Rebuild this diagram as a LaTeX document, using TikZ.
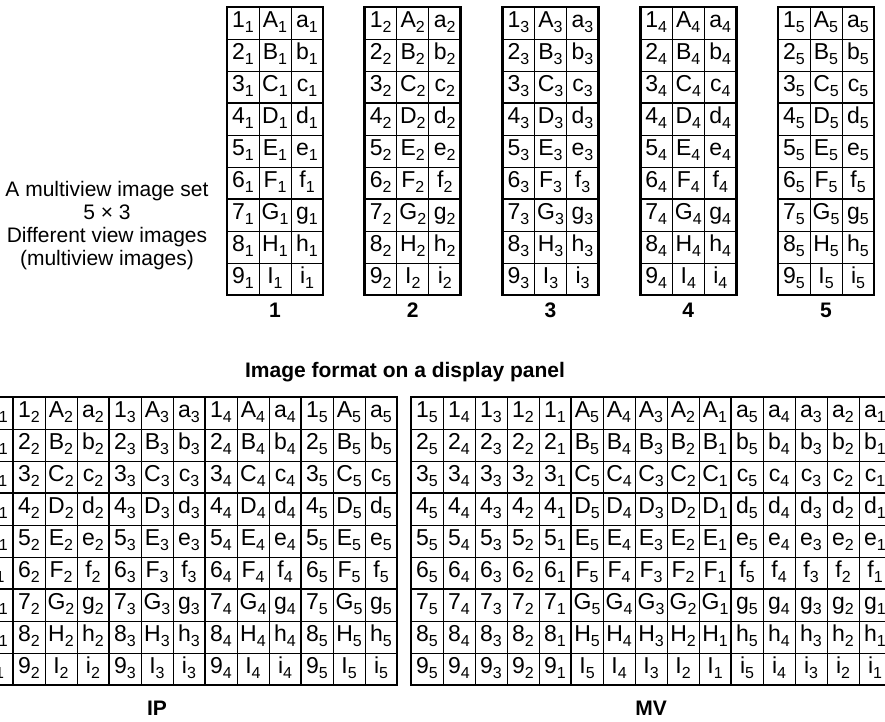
\documentclass[tikz,border=0pt]{standalone}
\usepackage{fontspec}
\setmainfont{Liberation Sans}
\newcommand\csub[2]{#1\raisebox{-5pt}{\fontsize{16}{16}\selectfont #2}}
\begin{document}
\begin{tikzpicture}[x=1pt,y=-1pt,
  thingrid/.style={line width=1pt},
  midgrid/.style={line width=2pt},
  outerbox/.style={line width=2.6pt},
  celltxt/.style={anchor=base,inner sep=0pt,font=\fontsize{23}{23}\selectfont},
  lab/.style={inner sep=0pt,font=\fontsize{21}{23}\selectfont\bfseries},
  desc/.style={align=center,inner sep=0pt,font=\fontsize{21}{23}\selectfont}]
\useasboundingbox (0,0) rectangle (885,721);
\fill[white] (0,0) rectangle (885,721);
\clip (0,0) rectangle (885,721);

% ---------- left description ----------
\node[desc] (desc) at (107,226) {A multiview image set\\5 × 3\\Different view images\\(multiview images)};

% ---------- top five view images ----------
\foreach \k in {1,...,5}{
  \pgfmathsetmacro\gx{227+137.75*(\k-1)}
  \foreach \c in {1,2}
    \draw[thingrid] ({\gx+32*\c},7) -- ({\gx+32*\c},295);
  \foreach \r in {1,2,4,5,7,8}
    \draw[thingrid] (\gx,{7+32*\r}) -- ({\gx+96},{7+32*\r});
  \foreach \r in {3,6}
    \draw[midgrid] (\gx,{7+32*\r}) -- ({\gx+96},{7+32*\r});
  \draw[outerbox] (\gx,7) rectangle ({\gx+96},295);
  \foreach \r/\U/\l in {1/A/a,2/B/b,3/C/c,4/D/d,5/E/e,6/F/f,7/G/g,8/H/h,9/I/i}{
    \node[celltxt] (v\k n\r) at ({\gx+16},{7+32*(\r-1)+20}) {\csub{\r}{\k}};
    \node[celltxt] (v\k U\r) at ({\gx+48},{7+32*(\r-1)+20}) {\csub{\U}{\k}};
    \node[celltxt] (v\k l\r) at ({\gx+80},{7+32*(\r-1)+20}) {\csub{\l}{\k}};
  }
  \node[lab] (lab\k) at ({\gx+48},310.5) {\k};
}

% ---------- heading ----------
\node[lab] (head) at (405,372) {Image format on a display panel};

% ---------- IP format ----------
\def\ipx{-83}
\def\gy{397}
\foreach \c in {1,...,14}{
  \pgfmathtruncatemacro\m{mod(\c,3)}
  \ifnum\m=0
    \draw[midgrid] ({\ipx+32*\c},\gy) -- ({\ipx+32*\c},{\gy+288});
  \else
    \draw[thingrid] ({\ipx+32*\c},\gy) -- ({\ipx+32*\c},{\gy+288});
  \fi
}
\foreach \r in {1,2,4,5,7,8}
  \draw[thingrid] (\ipx,{\gy+32*\r}) -- ({\ipx+480},{\gy+32*\r});
\foreach \r in {3,6}
  \draw[midgrid] (\ipx,{\gy+32*\r}) -- ({\ipx+480},{\gy+32*\r});
\draw[outerbox] (\ipx,\gy) rectangle ({\ipx+480},{\gy+288});
\foreach \k in {1,...,5}{
  \pgfmathsetmacro\bx{\ipx+96*(\k-1)}
  \foreach \r/\U/\l in {1/A/a,2/B/b,3/C/c,4/D/d,5/E/e,6/F/f,7/G/g,8/H/h,9/I/i}{
    \node[celltxt] (ip\k n\r) at ({\bx+16},{\gy+32*(\r-1)+20}) {\csub{\r}{\k}};
    \node[celltxt] (ip\k U\r) at ({\bx+48},{\gy+32*(\r-1)+20}) {\csub{\U}{\k}};
    \node[celltxt] (ip\k l\r) at ({\bx+80},{\gy+32*(\r-1)+20}) {\csub{\l}{\k}};
  }
}
\node[lab] (iplab) at (157,708) {IP};

% ---------- MV format ----------
\def\mvx{411}
\foreach \c in {1,...,14}{
  \pgfmathtruncatemacro\m{mod(\c,5)}
  \ifnum\m=0
    \draw[midgrid] ({\mvx+32*\c},\gy) -- ({\mvx+32*\c},{\gy+288});
  \else
    \draw[thingrid] ({\mvx+32*\c},\gy) -- ({\mvx+32*\c},{\gy+288});
  \fi
}
\foreach \r in {1,2,4,5,7,8}
  \draw[thingrid] (\mvx,{\gy+32*\r}) -- ({\mvx+480},{\gy+32*\r});
\foreach \r in {3,6}
  \draw[midgrid] (\mvx,{\gy+32*\r}) -- ({\mvx+480},{\gy+32*\r});
\draw[outerbox] (\mvx,\gy) rectangle ({\mvx+480},{\gy+288});
\foreach \j in {0,...,4}{
  \pgfmathtruncatemacro\k{5-\j}
  \foreach \r/\U/\l in {1/A/a,2/B/b,3/C/c,4/D/d,5/E/e,6/F/f,7/G/g,8/H/h,9/I/i}{
    \node[celltxt] (mv\k n\r) at ({\mvx+32*\j+16},{\gy+32*(\r-1)+20}) {\csub{\r}{\k}};
    \node[celltxt] (mv\k U\r) at ({\mvx+160+32*\j+16},{\gy+32*(\r-1)+20}) {\csub{\U}{\k}};
    \node[celltxt] (mv\k l\r) at ({\mvx+320+32*\j+16},{\gy+32*(\r-1)+20}) {\csub{\l}{\k}};
  }
}
\node[lab] (mvlab) at (651,708) {MV};
\end{tikzpicture}
\end{document}
